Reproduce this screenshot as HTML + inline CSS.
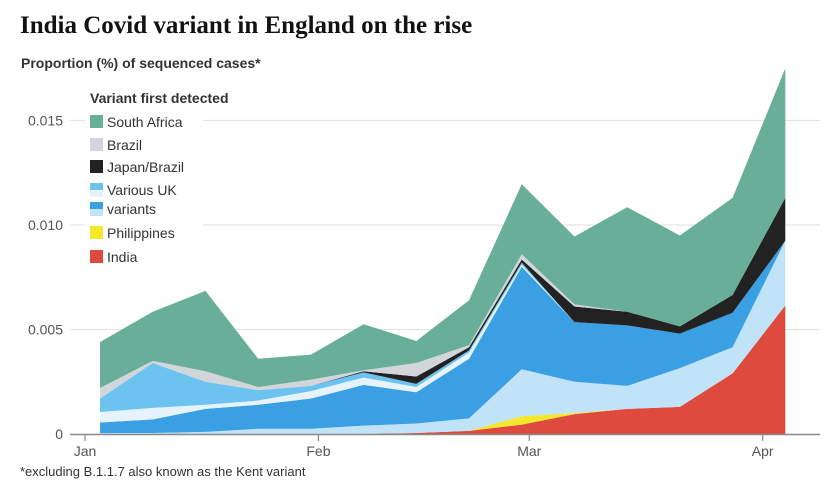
<!DOCTYPE html>
<html><head><meta charset="utf-8"><style>
body{margin:0;background:#fff;}
svg{display:block;font-family:"Liberation Sans",sans-serif;}
</style></head><body>
<svg id="chart" width="835" height="494" viewBox="0 0 835 494">
<text x="20" y="33" font-family="Liberation Serif,serif" font-weight="bold" font-size="25" fill="#121212">India Covid variant in England on the rise</text>
<text x="21" y="68" font-weight="bold" font-size="14" fill="#333">Proportion (%) of sequenced cases*</text>
<g id="grid"></g>
<g id="areas"></g>
<g id="axes"></g>
<g id="legend"></g>
<text x="20" y="476" font-size="13" fill="#333">*excluding B.1.1.7 also known as the Kent variant</text>
</svg>
<script>
// values in thousandths (0.001) of sequenced cases
const dayOffsets=[2,9,16,23,30,37,44,51,58,65,72,79,86,93];
const india=[0,0,0,0,0,0,0.05,0.15,0.45,0.95,1.2,1.3,2.9,6.15];
const philippines=[0,0,0,0,0,0,0,0,0.4,0.05,0,0,0,0];
const ukLight=[0.05,0.05,0.1,0.25,0.25,0.4,0.45,0.6,2.25,1.5,1.1,1.85,1.25,3.1];
const ukBlue=[0.5,0.65,1.1,1.15,1.45,1.95,1.5,2.85,4.9,2.85,2.9,1.65,1.65,0];
const ukPale=[0.5,0.55,0.2,0.2,0.35,0.35,0.25,0.3,0.1,0,0,0,0,0];
const ukSky=[0.65,2.15,1.1,0.5,0.25,0.25,0.15,0.1,0.1,0,0,0,0,0];
const japanBrazil=[0,0,0,0,0,0.05,0.35,0.15,0.15,0.75,0.65,0.35,0.85,2.05];
const brazil=[0.5,0.1,0.5,0.15,0.3,0.05,0.65,0.1,0.25,0.1,0,0,0,0];
const southAfrica=[2.2,2.35,3.85,1.35,1.2,2.2,1.05,2.15,3.35,3.25,5.0,4.35,4.65,6.2];
const yTicks=[0,5,10,15];
const yTickLabels=["0","0.005","0.010","0.015"];
const monthDays=[0,31,59,90];
const monthLabels=["Jan","Feb","Mar","Apr"];

const NS="http://www.w3.org/2000/svg";
const x=d=>85+d*7.53;
const y=v=>434-v*20.9;
function mk(tag,attrs,parent){const e=document.createElementNS(NS,tag);for(const k in attrs)e.setAttribute(k,attrs[k]);parent.appendChild(e);return e;}
const grid=document.getElementById('grid'),areas=document.getElementById('areas'),axes=document.getElementById('axes'),legend=document.getElementById('legend');

yTicks.forEach((t,i)=>{
  if(t>0){const l=mk('line',{x1:70,x2:820,y1:y(t),y2:y(t),stroke:'#e4e4e4','stroke-width':1.2},grid);
  
  }
  const tx=mk('text',{x:63,y:y(t)+5,'text-anchor':'end','font-size':14,fill:'#555'},axes);
  tx.textContent=yTickLabels[i];
  
  
});

const layers=[
 ['india',india,'#de4b3e'],['philippines',philippines,'#f5e82a'],['uk-light',ukLight,'#c1e3f8'],
 ['uk-blue',ukBlue,'#3b9fe3'],['uk-pale',ukPale,'#e6f3fc'],['uk-sky',ukSky,'#6cc3f0'],
 ['japan-brazil',japanBrazil,'#222'],['brazil',brazil,'#d2d5da'],['south-africa',southAfrica,'#69ae98']];
let base=dayOffsets.map(()=>0);
layers.forEach(([name,vals,col])=>{
  const top=base.map((b,i)=>b+vals[i]);
  let d='M'+dayOffsets.map((dd,i)=>x(dd)+','+y(top[i])).join('L');
  for(let i=dayOffsets.length-1;i>=0;i--)d+='L'+x(dayOffsets[i])+','+y(base[i]);
  const p=mk('path',{d:d+'Z',fill:col},areas);
  
  
  base=top;
});

const ax=mk('line',{x1:70,x2:820,y1:434.5,y2:434.5,stroke:'#888','stroke-width':1.5},axes);


monthDays.forEach((d,i)=>{
  const tk=mk('line',{x1:x(d),x2:x(d),y1:434,y2:441,stroke:'#888','stroke-width':1.2},axes);
  
  
  const t=mk('text',{x:x(d),y:456,'text-anchor':'middle','font-size':14,fill:'#555'},axes);
  t.textContent=monthLabels[i];
  
  
});

const bg=mk('rect',{x:85,y:82,width:118,height:180,fill:'#fff'},legend);


const lh=mk('text',{x:90,y:103,'font-weight':'bold','font-size':14,fill:'#333'},legend);
lh.textContent='Variant first detected';


const entries=[['South Africa',127,['#69ae98']],['Brazil',150,['#d2d5da']],['Japan/Brazil',172,['#222']],
 ['Various UK',195,['#6cc3f0','#e6f3fc']],['variants',214,['#3b9fe3','#c1e3f8']],['Philippines',238,['#f5e82a']],['India',262,['#de4b3e']]];
entries.forEach(([lab,yy,cols])=>{
  const g=mk('g',{},legend);
  
  
  if(cols.length===1)mk('rect',{x:90,y:yy-12,width:13,height:13,fill:cols[0]},g);
  else{mk('rect',{x:90,y:yy-12,width:13,height:7,fill:cols[0]},g);mk('rect',{x:90,y:yy-5,width:13,height:7,fill:cols[1]},g);}
  const t=mk('text',{x:107,y:yy,'font-size':14,fill:'#333'},g);
  t.textContent=lab;
});
</script>
</body></html>
